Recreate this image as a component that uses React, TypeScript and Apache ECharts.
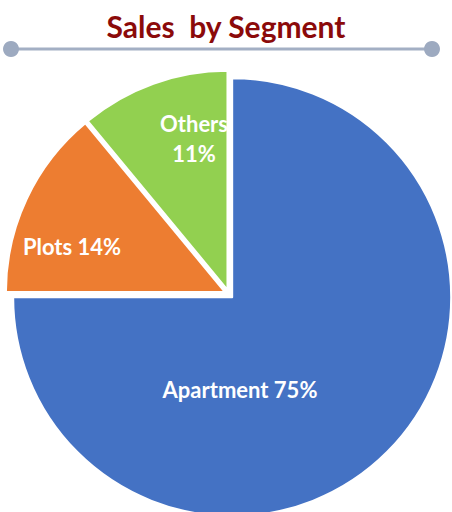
import React, { useEffect, useRef } from "react";
import * as echarts from "echarts";

const categories = ["Apartment", "Plots", "Others"];
const shares = [75, 14, 11];
const colors = ["#4472C4", "#ED7D31", "#92D050"];
const titleText = "Sales  by Segment";

// label anchor points (pixels), one per category
const labelAnchors: [number, number][] = [
  [240, 389],
  [72, 246],
  [194, 138],
];

export default function App() {
  const ref = useRef<HTMLDivElement>(null);
  useEffect(() => {
    document.body.style.margin = "0";
    const chart = echarts.init(ref.current!, null, { renderer: "svg" });
    const labelTexts = categories.map((name, i) =>
      name === "Others" ? `${name}\n${shares[i]}%` : `${name} ${shares[i]}%`
    );
    chart.setOption({
      animation: false,
      backgroundColor: "#ffffff",
      title: {
        text: titleText,
        left: "center",
        top: 6,
        textStyle: {
          fontFamily: "Lato",
          fontWeight: "bold",
          fontSize: 30,
          color: "#8B0A0A",
        },
      },
      graphic: [
        {
          type: "line",
          shape: { x1: 11, y1: 49, x2: 432, y2: 49 },
          style: { stroke: "#A3AFC4", lineWidth: 3 },
        },
        { type: "circle", shape: { cx: 11, cy: 49, r: 8 }, style: { fill: "#9DAAC0" } },
        { type: "circle", shape: { cx: 432, cy: 49, r: 8 }, style: { fill: "#9DAAC0" } },
        ...labelTexts.map((t, i) => ({
          type: "text",
          z: 100,
          x: labelAnchors[i][0],
          y: labelAnchors[i][1],
          style: {
            text: t,
            fill: "#ffffff",
            fontFamily: "Lato",
            fontWeight: "bold",
            fontSize: 22,
            lineHeight: 30,
            align: "center",
            verticalAlign: "middle",
          },
        })),
      ],
      series: [
        {
          type: "pie",
          center: [229, 294],
          radius: 219,
          startAngle: 90,
          clockwise: true,
          selectedMode: "multiple",
          selectedOffset: 4.5,
          emphasis: { disabled: true },
          itemStyle: { borderWidth: 2, borderColor: "#ffffff" },
          label: { show: false },
          labelLine: { show: false },
          data: categories.map((name, i) => ({
            name,
            value: shares[i],
            selected: true,
            itemStyle: { color: colors[i] },
          })),
        },
      ],
    });
    return () => chart.dispose();
  }, []);
  return <div ref={ref} style={{ width: 452, height: 512 }} />;
}
